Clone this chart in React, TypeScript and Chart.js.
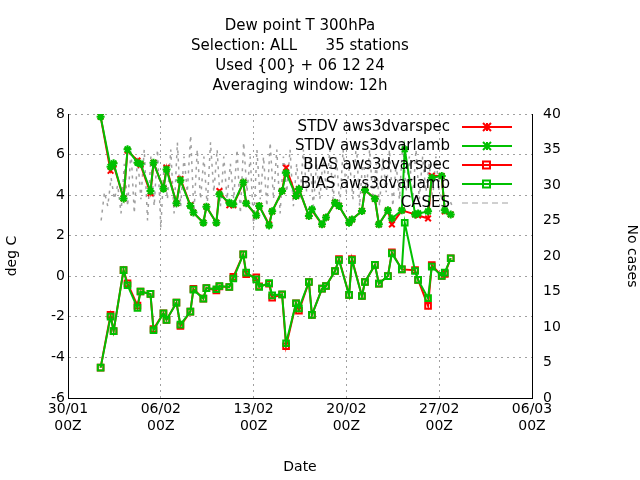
import React, { useEffect, useRef } from 'react';
import Chart from 'chart.js/auto';

// x in days since 30/01 00Z
const times = [2.46, 3.21, 3.44, 4.19, 4.49, 5.24, 5.47, 6.22, 6.45, 7.2, 7.43, 8.18, 8.48, 9.23, 9.46, 10.21, 10.44, 11.19, 11.42, 12.17, 12.47, 13.22, 13.44, 14.2, 14.42, 15.17, 15.4, 16.15, 16.45, 17.2, 17.42, 18.17, 18.4, 19.16, 19.46, 20.14, 20.44, 21.2, 21.42, 22.17, 22.4, 23.15, 23.45, 24.13, 24.43, 25.18, 25.4, 26.18, 26.41, 27.16, 27.44, 28.19, 28.42, 28.87];

const stdvSpec = [7.87, 5.2, 5.5, 3.84, 6.2, 5.7, 5.5, 4.1, 5.6, 4.32, 5.35, 3.6, 4.8, 3.5, 3.14, 2.64, 3.43, 2.64, 4.2, 3.5, 3.5, 4.62, 3.6, 3.0, 3.47, 2.55, 3.2, 4.2, 5.35, 3.96, 4.3, 2.97, 3.25, 2.56, 2.9, 3.63, 3.47, 2.64, 2.8, 3.22, 4.25, 3.82, 2.56, 3.25, 2.56, 3.25, null, 3.05, 3.0, 2.85, 4.95, 4.94, 3.2, 3.05];
const stdvLamb = [7.87, 5.4, 5.57, 3.84, 6.26, 5.6, 5.55, 4.2, 5.6, 4.32, 5.27, 3.6, 4.74, 3.47, 3.14, 2.64, 3.43, 2.64, 4.04, 3.63, 3.55, 4.62, 3.6, 3.0, 3.47, 2.5, 3.2, 4.2, 5.1, 3.96, 4.3, 2.97, 3.3, 2.56, 2.9, 3.63, 3.47, 2.64, 2.8, 3.22, 4.25, 3.82, 2.56, 3.25, 2.85, 3.25, 6.26, 3.05, 3.1, 3.2, 4.86, 4.94, 3.25, 3.05];
const biasSpec = [-4.5, -1.9, -2.7, 0.3, -0.35, -1.45, -0.75, -0.87, -2.6, -1.82, -2.15, -1.3, -2.45, -1.74, -0.62, -1.1, -0.58, -0.7, -0.5, -0.53, -0.03, 1.08, 0.1, -0.05, -0.5, -0.37, -1.05, -0.9, -3.45, -1.33, -1.7, -0.28, -1.9, -0.61, -0.48, 0.26, 0.85, -0.92, 0.85, -0.97, -0.28, 0.56, -0.36, 0.01, 1.18, 0.34, null, 0.3, -0.18, -1.46, 0.55, 0.02, 0.12, 0.89];
const biasLamb = [-4.5, -1.99, -2.7, 0.3, -0.44, -1.56, -0.75, -0.87, -2.66, -1.82, -2.15, -1.3, -2.38, -1.74, -0.66, -1.1, -0.58, -0.64, -0.48, -0.53, -0.11, 1.08, 0.18, -0.15, -0.53, -0.34, -0.94, -0.89, -3.3, -1.33, -1.58, -0.28, -1.9, -0.61, -0.48, 0.26, 0.8, -0.92, 0.8, -0.97, -0.28, 0.56, -0.36, 0.01, 1.13, 0.34, 2.64, 0.26, -0.18, -1.08, 0.48, 0.02, 0.18, 0.89];

// number of cases every 6h from day 2.5
const casesStart = 2.5;
const cases = [25, 29, 27, 31, 28, 30, 26,
  33, 27, 35, 26, 34, 28, 35, 25, 34, 27, 35, 24, 33, 28, 35, 26,
  36, 27, 34, 29, 37, 26, 35, 28, 34, 27, 36, 29, 35, 27, 34, 28,
  33, 28, 35, 26, 36, 29, 34, 24, 35, 28, 34, 27, 36, 28, 35, 26,
  34, 29, 35, 27, 33, 28, 35, 29, 34, 27, 33, 28, 34, 29, 35, 28,
  34, 27, 35, 29, 33, 28, 36, 27, 34, 29, 35, 28, 33, 27, 34, 29,
  35, 27, 33, 28, 36, 29, 34, 28, 35, 28, 34, 29, 33, 28, 34, 29,
  28, 27, 28, 27];

const dateLabels = ['30/01', '06/02', '13/02', '20/02', '27/02', '06/03'];
const titleLines = ['Dew point T 300hPa', 'Selection: ALL      35 stations', 'Used {00} + 06 12 24', 'Averaging window: 12h'];

const RED = '#ff0000';
const GREEN = '#00c000';
const FONT = 'DejaVu Sans';

const pts = (ys: (number | null)[]) => times.map((t, i) => ({ x: t, y: ys[i] }));

const overlay = {
  id: 'overlay',
  afterDraw(chart: any) {
    const { ctx, chartArea } = chart;
    ctx.save();
    ctx.fillStyle = '#000';
    ctx.font = `15px ${FONT}`;
    ctx.textAlign = 'center';
    ctx.textBaseline = 'middle';
    const cx = (chartArea.left + chartArea.right) / 2;
    titleLines.forEach((t, i) => ctx.fillText(t, cx, 26 + i * 20));
    // legend
    const items = [
      { label: 'STDV aws3dvarspec', color: RED, mark: 'star' },
      { label: 'STDV aws3dvarlamb', color: GREEN, mark: 'star' },
      { label: 'BIAS aws3dvarspec', color: RED, mark: 'box' },
      { label: 'BIAS aws3dvarlamb', color: GREEN, mark: 'box' },
      { label: 'CASES', color: '#a0a0a0', mark: 'none' },
    ];
    ctx.textAlign = 'right';
    items.forEach((it, i) => {
      const y = 127 + i * 19;
      ctx.fillStyle = '#000';
      ctx.fillText(it.label, 450, y);
      ctx.strokeStyle = it.color;
      ctx.lineWidth = it.mark === 'none' ? 1 : 2;
      ctx.setLineDash(it.mark === 'none' ? [6, 4] : []);
      ctx.beginPath();
      ctx.moveTo(462, y);
      ctx.lineTo(512, y);
      ctx.stroke();
      ctx.setLineDash([]);
      if (it.mark === 'box') ctx.strokeRect(483, y - 3.5, 7, 7);
      if (it.mark === 'star') {
        ctx.beginPath();
        ctx.moveTo(483, y - 4); ctx.lineTo(491, y + 4);
        ctx.moveTo(491, y - 4); ctx.lineTo(483, y + 4);
        ctx.moveTo(487, y - 4); ctx.lineTo(487, y + 4);
        ctx.stroke();
      }
    });
    ctx.restore();
  },
};

const App: React.FC = () => {
  const chartRef = useRef<HTMLCanvasElement>(null);
  const chartInstance = useRef<Chart | null>(null);

  useEffect(() => {
    document.body.style.margin = '0';
    if (!chartRef.current) return;
    if (chartInstance.current) chartInstance.current.destroy();

    const caseData = cases.map((c, i) => ({ x: casesStart + i * 0.25, y: c }));
    const line = (label: string, data: any, color: string, style: string) => ({
      label,
      data,
      borderColor: color,
      backgroundColor: color,
      borderWidth: 2,
      pointStyle: style,
      pointRadius: 4,
      pointBorderWidth: 2,
      pointBackgroundColor: 'rgba(0,0,0,0)',
      spanGaps: true,
      yAxisID: 'y',
    });

    // first dataset is drawn on top: green above red, cases at the back
    chartInstance.current = new Chart(chartRef.current, {
      type: 'line',
      data: {
        datasets: [
          line('STDV aws3dvarlamb', pts(stdvLamb), GREEN, 'star'),
          line('BIAS aws3dvarlamb', pts(biasLamb), GREEN, 'rect'),
          line('STDV aws3dvarspec', pts(stdvSpec), RED, 'crossRot'),
          line('BIAS aws3dvarspec', pts(biasSpec), RED, 'rect'),
          {
            label: 'CASES',
            data: caseData,
            borderColor: '#a0a0a0',
            borderWidth: 1.5,
            borderDash: [3, 5],
            pointRadius: 0,
            yAxisID: 'y2',
          },
        ] as any,
      },
      options: {
        animation: false,
        responsive: false,
        layout: { padding: { top: 114, left: 0, right: 0, bottom: 0 } },
        plugins: { legend: { display: false }, tooltip: { enabled: false } },
        scales: {
          x: {
            type: 'linear',
            min: 0,
            max: 35,
            border: { color: '#000', width: 1, dash: [2, 4] },
            grid: { color: '#a0a0a0', lineWidth: 1, tickLength: 0 } as any,
            ticks: {
              stepSize: 7,
              color: '#000',
              font: { family: FONT, size: 14 },
              maxRotation: 0,
              callback: (v: any) => [dateLabels[Math.round(v / 7)], '00Z'],
            },
            title: { display: true, text: 'Date', color: '#000', font: { family: FONT, size: 14 } },
            afterFit: (s: any) => { s.height = 82; },
          },
          y: {
            position: 'left',
            min: -6,
            max: 8,
            border: { color: '#000', dash: [2, 4] },
            grid: { color: '#a0a0a0', tickLength: 0 },
            ticks: { stepSize: 2, color: '#000', font: { family: FONT, size: 14 } },
            title: { display: true, text: 'deg C', color: '#000', font: { family: FONT, size: 14 } },
            afterFit: (s: any) => { s.width = 68; },
          },
          y2: {
            position: 'right',
            min: 0,
            max: 40,
            border: { color: '#000' },
            grid: { display: false },
            ticks: { stepSize: 5, color: '#000', font: { family: FONT, size: 14 } },
            title: { display: true, text: 'No cases', color: '#000', font: { family: FONT, size: 14 }, padding: { top: 0, bottom: 8 } },
            afterFit: (s: any) => { s.width = 108; },
          },
        },
      },
      plugins: [overlay],
    });

    return () => {
      if (chartInstance.current) chartInstance.current.destroy();
    };
  }, []);

  return (
    <div style={{ width: 640, height: 480, background: '#fff' }}>
      <canvas ref={chartRef} width={640} height={480}></canvas>
    </div>
  );
};

export default App;
